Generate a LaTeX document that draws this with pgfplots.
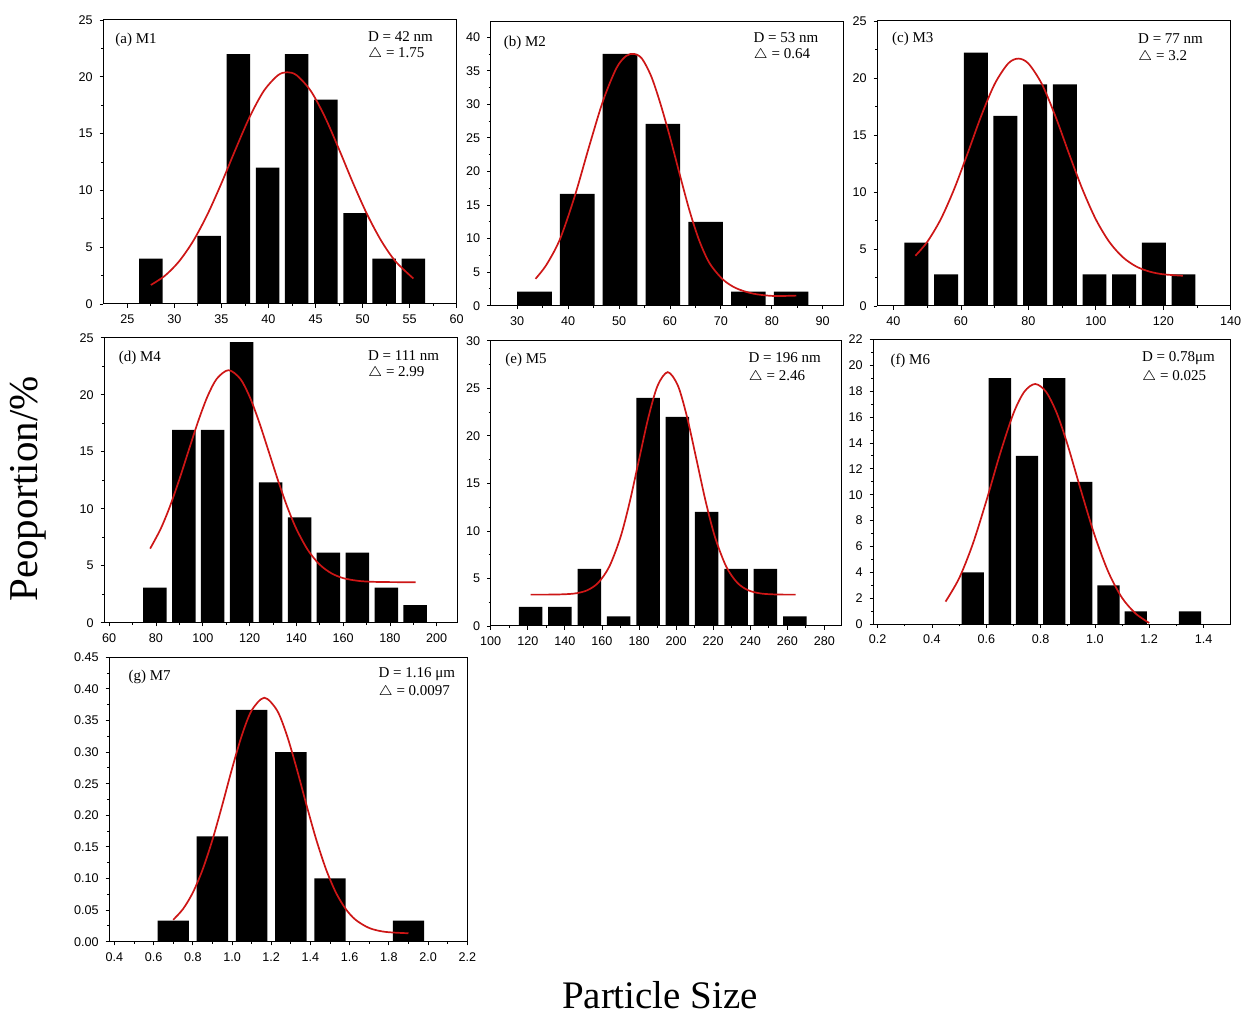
\documentclass[border=0pt]{standalone}
\usepackage{fontspec}
\setmainfont{Liberation Serif}
\newfontfamily\ticksans{Liberation Sans}
\usepackage{pgfplots}
\pgfplotsset{compat=1.18}
\definecolor{fitred}{RGB}{205,22,22}
\pgfplotsset{
  panel/.style={scale only axis, anchor=south west, ymin=0,
    tick align=outside, tick pos=left, minor tick num=1,
    major tick length=1.8pt, minor tick length=1.0pt,
    tick style={black, line width=0.4pt},
    axis line style={line width=0.5pt},
    tick label style={font=\ticksans\fontsize{6.3}{7}\selectfont},
    /pgf/number format/assume math mode=true},
  hist/.style={ybar, bar shift=0pt, fill=black, draw=none},
  fit/.style={fitred, line width=0.85pt, smooth, no marks},
}
\tikzset{lab/.style={anchor=west, inner sep=0pt, font=\fontsize{7.5}{8}\selectfont}}
\begin{document}
\begin{tikzpicture}
\useasboundingbox (0,0) rectangle (621pt,507.5pt);

% (a) M1
\begin{axis}[panel, at={(51.65pt,355.5pt)}, width=176.7pt, height=142pt,
  xmin=22.45, xmax=60, ymax=25, xtick={25,30,...,60}, ytick={0,5,...,25}]
\addplot[hist, bar width=2.5] coordinates
  {(27.5,4)(33.7,6)(36.8,22)(39.9,12)(43.0,22)(46.1,18)(49.2,8)(52.3,4)(55.4,4)};
\addplot[fit] coordinates
  {(27.5,1.67)(29,2.49)(30.5,3.75)(32,5.54)(33.5,7.86)(35,10.62)(36.5,13.61)(38,16.46)
   (39.5,18.75)(41,20.13)(42,20.4)(43,20.13)(44.5,18.75)(46,16.46)(47.5,13.61)(49,10.62)
   (50.5,7.86)(52,5.54)(53.5,3.75)(55.4,2.24)};
\node[lab] at (rel axis cs:0.033,0.93) {(a) M1};
\node[lab] at (rel axis cs:0.748,0.943) {D = 42 nm};
\node[lab] at (rel axis cs:0.748,0.88) {$\triangle$ = 1.75};
\end{axis}

% (b) M2
\begin{axis}[panel, at={(245.35pt,354.65pt)}, width=176.2pt, height=142pt,
  xmin=24.8, xmax=94, ymax=42.3, xtick={30,40,...,90}, ytick={0,5,...,40}]
\addplot[hist, bar width=6.8] coordinates
  {(33.4,2.08)(41.8,16.67)(50.2,37.5)(58.6,27.08)(67.0,12.5)(75.4,2.08)(83.8,2.08)};
\addplot[fit] coordinates
  {(33.6,4.0)(35.75,6.1)(38.4,9.9)(41.3,16.3)(44.2,23.9)(46.9,30.6)(49.5,35.4)(51.4,37.2)
   (53.0,37.5)(54.5,36.8)(56.3,34.2)(58.0,30.4)(59.9,25.4)(61.9,19.6)(63.9,14.0)(65.8,9.6)
   (67.8,6.3)(70.4,3.9)(73.0,2.6)(76.3,1.8)(80.2,1.45)(84.8,1.5)};
\node[lab] at (rel axis cs:0.036,0.924) {(b) M2};
\node[lab] at (rel axis cs:0.745,0.945) {D = 53 nm};
\node[lab] at (rel axis cs:0.745,0.883) {$\triangle$ = 0.64};
\end{axis}

% (c) M3
\begin{axis}[panel, at={(438.65pt,354.5pt)}, width=176.7pt, height=142.5pt,
  xmin=35.2, xmax=140, ymax=25, xtick={40,60,...,140}, ytick={0,5,...,25}]
\addplot[hist, bar width=7.1] coordinates
  {(46.8,5.56)(55.6,2.78)(64.4,22.22)(73.2,16.67)(82.0,19.44)(90.8,19.44)(99.6,2.78)
   (108.4,2.78)(117.2,5.56)(126.0,2.78)};
\addplot[fit] coordinates
  {(46.5,4.41)(50,5.62)(54,7.60)(58,10.26)(62,13.40)(66,16.66)(70,19.47)(74,21.27)
   (77,21.7)(80,21.27)(84,19.47)(88,16.66)(92,13.40)(96,10.26)(100,7.60)(104,5.62)
   (108,4.28)(112,3.46)(116,3.01)(120,2.78)(125.8,2.65)};
\node[lab] at (rel axis cs:0.041,0.936) {(c) M3};
\node[lab] at (rel axis cs:0.737,0.939) {D = 77 nm};
\node[lab] at (rel axis cs:0.737,0.875) {$\triangle$ = 3.2};
\end{axis}

% (d) M4
\begin{axis}[panel, at={(52.15pt,196.15pt)}, width=176.5pt, height=142.5pt,
  xmin=57.9, xmax=208.8, ymax=25, xtick={60,80,...,200}, ytick={0,5,...,25}]
\addplot[hist, bar width=10] coordinates
  {(79.5,3.08)(91.9,16.92)(104.2,16.92)(116.6,24.62)(129.0,12.31)(141.4,9.23)(153.7,6.15)
   (166.1,6.15)(178.5,3.08)(190.8,1.54)};
\addplot[fit] coordinates
  {(77.5,6.50)(82,8.23)(86,10.22)(90,12.58)(94,15.13)(98,17.65)(102,19.84)(106,21.40)
   (111,22.15)(116,21.40)(120,19.84)(124,17.65)(128,15.13)(132,12.58)(136,10.22)(140,8.23)
   (145,6.35)(150,5.09)(155,4.33)(160,3.91)(166,3.68)(172,3.59)(180,3.56)(191,3.55)};
\node[lab] at (rel axis cs:0.040,0.928) {(d) M4};
\node[lab] at (rel axis cs:0.746,0.939) {D = 111 nm};
\node[lab] at (rel axis cs:0.746,0.875) {$\triangle$ = 2.99};
\end{axis}

% (e) M5
\begin{axis}[panel, at={(245.35pt,194.5pt)}, width=175.2pt, height=142.6pt,
  xmin=100, xmax=289, ymax=30, xtick={100,120,...,280}, ytick={0,5,...,30}]
\addplot[hist, bar width=12.7] coordinates
  {(121.5,2)(137.3,2)(153.2,6)(169.0,1)(184.9,24)(200.7,22)(216.5,12)(232.4,6)
   (248.2,6)(264.1,1)};
\addplot[fit] coordinates
  {(121.5,3.30)(135,3.31)(145,3.41)(152,3.75)(158,4.55)(164,6.26)(170,9.34)(175,13.06)
   (180,17.50)(185,21.90)(190,25.27)(195.5,26.70)(201,25.27)(206,21.90)(211,17.50)
   (216,13.06)(221,9.34)(227,6.26)(233,4.55)(239,3.75)(246,3.41)(255,3.31)(264.5,3.30)};
\node[lab] at (rel axis cs:0.041,0.932) {(e) M5};
\node[lab] at (rel axis cs:0.735,0.940) {D = 196 nm};
\node[lab] at (rel axis cs:0.735,0.874) {$\triangle$ = 2.46};
\end{axis}

% (f) M6
\begin{axis}[panel, at={(436.65pt,195.35pt)}, width=178.7pt, height=142.5pt,
  xmin=0.184, xmax=1.5, ymax=22, xtick={0.2,0.4,0.6,0.8,1.0,1.2,1.4}, ytick={0,2,...,22},
  xticklabel style={/pgf/number format/.cd, fixed, fixed zerofill, precision=1}]
\addplot[hist, bar width=0.082] coordinates
  {(0.55,4)(0.65,19)(0.75,13)(0.85,19)(0.95,11)(1.05,3)(1.15,1)(1.35,1)};
\addplot[fit] coordinates
  {(0.45,1.75)(0.50,3.55)(0.55,6.18)(0.60,9.51)(0.65,13.11)(0.70,16.28)(0.74,17.95)
   (0.78,18.55)(0.82,17.95)(0.86,16.28)(0.90,13.81)(0.95,10.23)(1.00,6.80)(1.05,4.01)
   (1.10,2.04)(1.15,0.83)(1.20,0.10)};
\node[lab] at (rel axis cs:0.047,0.924) {(f) M6};
\node[lab] at (rel axis cs:0.751,0.933) {D = 0.78μm};
\node[lab] at (rel axis cs:0.751,0.869) {$\triangle$ = 0.025};
\end{axis}

% (g) M7
\begin{axis}[panel, at={(54.65pt,36.65pt)}, width=179pt, height=142.2pt,
  xmin=0.374, xmax=2.2, ymax=0.45,
  xtick={0.4,0.6,0.8,1.0,1.2,1.4,1.6,1.8,2.0,2.2},
  ytick={0,0.05,0.10,0.15,0.20,0.25,0.30,0.35,0.40,0.45},
  xticklabel style={/pgf/number format/.cd, fixed, fixed zerofill, precision=1},
  yticklabel style={/pgf/number format/.cd, fixed, fixed zerofill, precision=2}]
\addplot[hist, bar width=0.16] coordinates
  {(0.7,0.0333)(0.9,0.1667)(1.1,0.3667)(1.3,0.3)(1.5,0.1)(1.9,0.0333)};
\addplot[fit] coordinates
  {(0.70,0.0347)(0.75,0.0517)(0.80,0.0776)(0.85,0.1141)(0.90,0.1611)(0.95,0.2160)
   (1.00,0.2737)(1.05,0.3264)(1.10,0.3658)(1.165,0.386)(1.23,0.3658)(1.28,0.3264)
   (1.33,0.2737)(1.38,0.2160)(1.43,0.1611)(1.48,0.1141)(1.53,0.0776)(1.58,0.0517)
   (1.63,0.0347)(1.70,0.0216)(1.78,0.0156)(1.90,0.0133)};
\node[lab] at (rel axis cs:0.053,0.932) {(g) M7};
\node[lab] at (rel axis cs:0.751,0.940) {D = 1.16 μm};
\node[lab] at (rel axis cs:0.751,0.879) {$\triangle$ = 0.0097};
\end{axis}

\node[rotate=90, font=\fontsize{20.5}{22}\selectfont] at (14pt,263pt) {Peoportion/\%};
\node[font=\fontsize{19.5}{21}\selectfont, inner sep=0pt] at (330pt,10pt) {Particle Size};
\end{tikzpicture}
\end{document}
